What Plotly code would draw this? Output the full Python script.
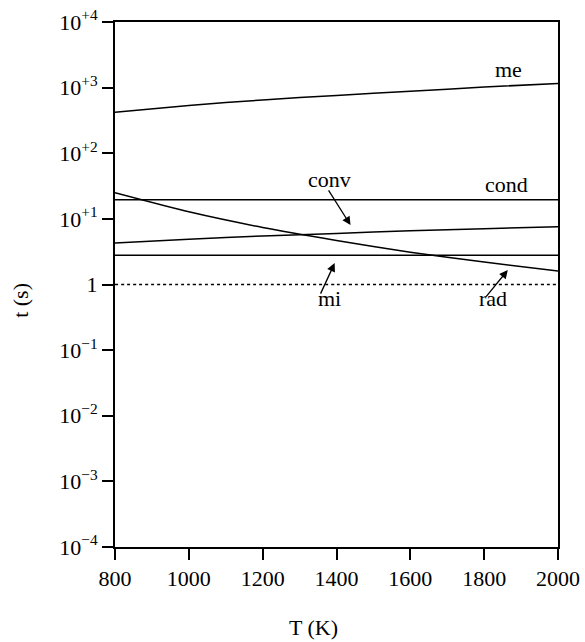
import plotly.graph_objects as go

T = [800, 1000, 1200, 1400, 1600, 1800, 2000]
me = [420, 535, 650, 760, 880, 1020, 1160]
cond = [19.5, 19.5, 19.5, 19.5, 19.5, 19.5, 19.5]
conv = [4.3, 4.9, 5.5, 6.0, 6.6, 7.1, 7.6]
mi = [2.8, 2.8, 2.8, 2.8, 2.8, 2.8, 2.8]
rad = [25, 12.8, 7.4, 4.7, 3.1, 2.2, 1.6]
unity = [1, 1, 1, 1, 1, 1, 1]

ytickvals = [1e-4, 1e-3, 1e-2, 1e-1, 1, 1e1, 1e2, 1e3, 1e4]
yticktext = ["10<sup>\u22124</sup>", "10<sup>\u22123</sup>", "10<sup>\u22122</sup>",
             "10<sup>\u22121</sup>", "1", "10<sup>+1</sup>", "10<sup>+2</sup>",
             "10<sup>+3</sup>", "10<sup>+4</sup>"]
xtickvals = [800, 1000, 1200, 1400, 1600, 1800, 2000]

FONT = "Liberation Serif, Times New Roman, DejaVu Serif, serif"
FS = 22
tfont = dict(family=FONT, size=FS, color="black")

fig = go.Figure()
for ys, dash in [(me, "solid"), (cond, "solid"), (conv, "solid"), (mi, "solid"),
                 (rad, "solid"), (unity, "dot")]:
    fig.add_trace(go.Scatter(x=T, y=ys, mode="lines",
                             line=dict(color="black", width=1.5, dash=dash,
                                       shape="spline", smoothing=0.6),
                             showlegend=False, hoverinfo="skip"))

labels = [("me", 1866, 3.27), ("cond", 1861, 1.52), ("conv", 1382, 1.60),
          ("mi", 1382, -0.21), ("rad", 1824, -0.21)]
for txt, x, y in labels:
    fig.add_annotation(x=x, y=y, text=txt, showarrow=False, font=tfont)

arrows = [(1438, 0.905, 1376, 1.456), (1395, 0.326, 1355, -0.162),
          (1864, 0.22, 1802, -0.207)]
for hx, hy, tx, ty in arrows:
    fig.add_annotation(x=hx, y=hy, ax=tx, ay=ty, axref="x", ayref="y",
                       text="", showarrow=True, arrowhead=2, arrowsize=1.3,
                       arrowwidth=1.3, arrowcolor="black")

# axis titles (paper coords are relative to the plot area)
fig.add_annotation(x=0.447, y=-0.154, xref="paper", yref="paper",
                   text="T (K)", showarrow=False, font=tfont,
                   xanchor="center", yanchor="middle")
fig.add_annotation(x=-0.212, y=0.469, xref="paper", yref="paper",
                   text="t (s)", showarrow=False, font=tfont, textangle=-90,
                   xanchor="center", yanchor="middle")

fig.update_layout(
    width=585, height=642,
    margin=dict(l=115, r=27, t=22, b=95),
    plot_bgcolor="white", paper_bgcolor="white",
    font=tfont,
)
fig.update_xaxes(range=[800, 2000], tickvals=xtickvals, ticks="outside",
                 ticklen=11, tickwidth=1.5, tickcolor="black", tickfont=tfont,
                 showline=True, linecolor="black", linewidth=2, mirror=True,
                 showgrid=False, zeroline=False, automargin=False)
fig.update_yaxes(type="log", range=[-4, 4], tickvals=ytickvals,
                 ticktext=yticktext, ticks="outside", ticklen=11,
                 tickwidth=1.5, tickcolor="black", tickfont=tfont,
                 showline=True, linecolor="black", linewidth=2, mirror=True,
                 showgrid=False, zeroline=False, automargin=False)

fig.write_html("out.html")
